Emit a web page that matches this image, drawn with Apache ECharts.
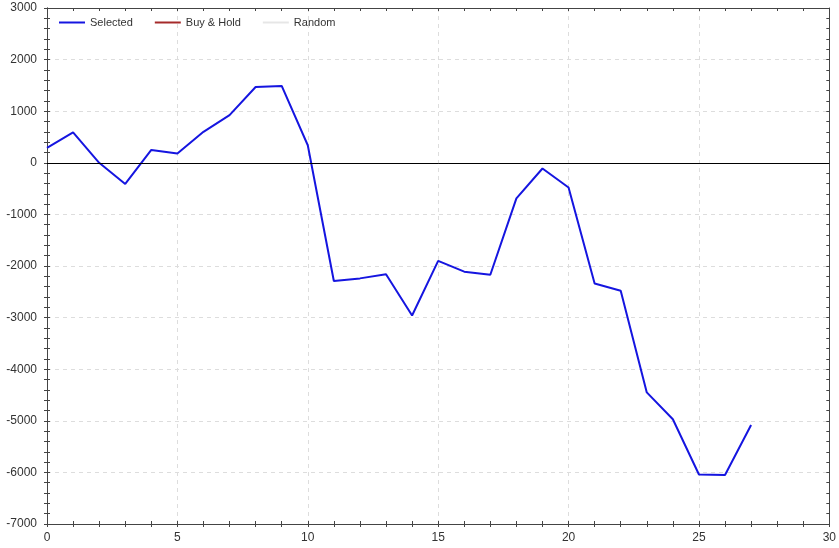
<!DOCTYPE html>
<html>
<head>
<meta charset="utf-8">
<script src="https://cdn.jsdelivr.net/npm/echarts@6/dist/echarts.min.js"></script>
<style>
  html, body { margin: 0; padding: 0; background: #fff; }
  #main { width: 839px; height: 548px; }
</style>
</head>
<body>
<div id="main"></div>
<script>
// trade index along x
const steps = [0, 1, 2, 3, 4, 5, 6, 7, 8, 9, 10, 11, 12, 13, 14, 15, 16, 17, 18, 19, 20, 21, 22, 23, 24, 25, 26, 27]
// cumulative result of the selected strategy
const selected = [290, 590, 0, -410, 250, 180, 600, 925, 1470, 1490, 340, -2290, -2240, -2160, -2960, -1900, -2110, -2170, -690, -110, -480, -2340, -2480, -4450, -4970, -6040, -6050, -5080]
const buyHold = []
const random = []
const seriesNames = ['Selected', 'Buy & Hold', 'Random']

const chart = echarts.init(document.getElementById('main'))

const labelStyle = { color: '#333', fontSize: 12, fontFamily: 'Liberation Sans, Arial, sans-serif' }
const lineCol = '#444'

// builds one axis; ticks drawn on both sides by stacking an inside copy
function xAx(pos, inside, showLabel) {
    return {
        type: 'value', min: 0, max: 30, interval: 5, position: pos,
        axisLine: { show: true, onZero: false, lineStyle: { color: lineCol } },
        axisTick: { show: true, inside: inside, length: 3, lineStyle: { color: lineCol } },
        minorTick: { show: true, splitNumber: 5, length: 3, lineStyle: { color: lineCol } },
        axisLabel: showLabel ? Object.assign({ margin: 8, formatter: v => String(v) }, labelStyle) : { show: false },
        splitLine: { show: showLabel, lineStyle: { color: '#ddd', type: [4, 4] } }
    }
}
function yAx(pos, inside, showLabel) {
    return {
        type: 'value', min: -7000, max: 3000, interval: 1000, position: pos,
        axisLine: { show: true, onZero: false, lineStyle: { color: lineCol } },
        axisTick: { show: true, inside: inside, length: 3, lineStyle: { color: lineCol } },
        minorTick: { show: true, splitNumber: 5, length: 3, lineStyle: { color: lineCol } },
        axisLabel: showLabel ? Object.assign({ margin: 10, formatter: v => String(v) }, labelStyle) : { show: false },
        splitLine: { show: showLabel, lineStyle: { color: '#ddd', type: [4, 4] } }
    }
}

const option = {
    animation: false,
    grid: { left: 47, right: 9, top: 8, bottom: 24 },
    legend: {
        data: seriesNames,
        left: 54, top: 12,
        itemWidth: 26, itemHeight: 2, itemGap: 22,
        icon: 'rect',
        textStyle: { color: '#333', fontSize: 11, fontFamily: 'Liberation Sans, Arial, sans-serif' }
    },
    xAxis: [xAx('bottom', false, true), xAx('bottom', true, false), xAx('top', true, false)],
    yAxis: [yAx('left', false, true), yAx('left', true, false), yAx('right', true, false)],
    series: [
        {
            name: 'Selected', type: 'line',
            data: steps.map((s, i) => [s, selected[i]]),
            symbol: 'none',
            lineStyle: { color: '#1515e0', width: 2 },
            itemStyle: { color: '#1515e0' },
            markLine: {
                silent: true, symbol: 'none', label: { show: false },
                lineStyle: { color: '#000', width: 1, type: 'solid' },
                data: [{ yAxis: 0 }]
            }
        },
        {
            name: 'Buy & Hold', type: 'line', data: buyHold, symbol: 'none',
            lineStyle: { color: '#a52a2a', width: 2 }, itemStyle: { color: '#a52a2a' }
        },
        {
            name: 'Random', type: 'line', data: random, symbol: 'none',
            lineStyle: { color: '#e6e6e6', width: 2 }, itemStyle: { color: '#e6e6e6' }
        }
    ]
}

chart.setOption(option)
</script>
</body>
</html>
